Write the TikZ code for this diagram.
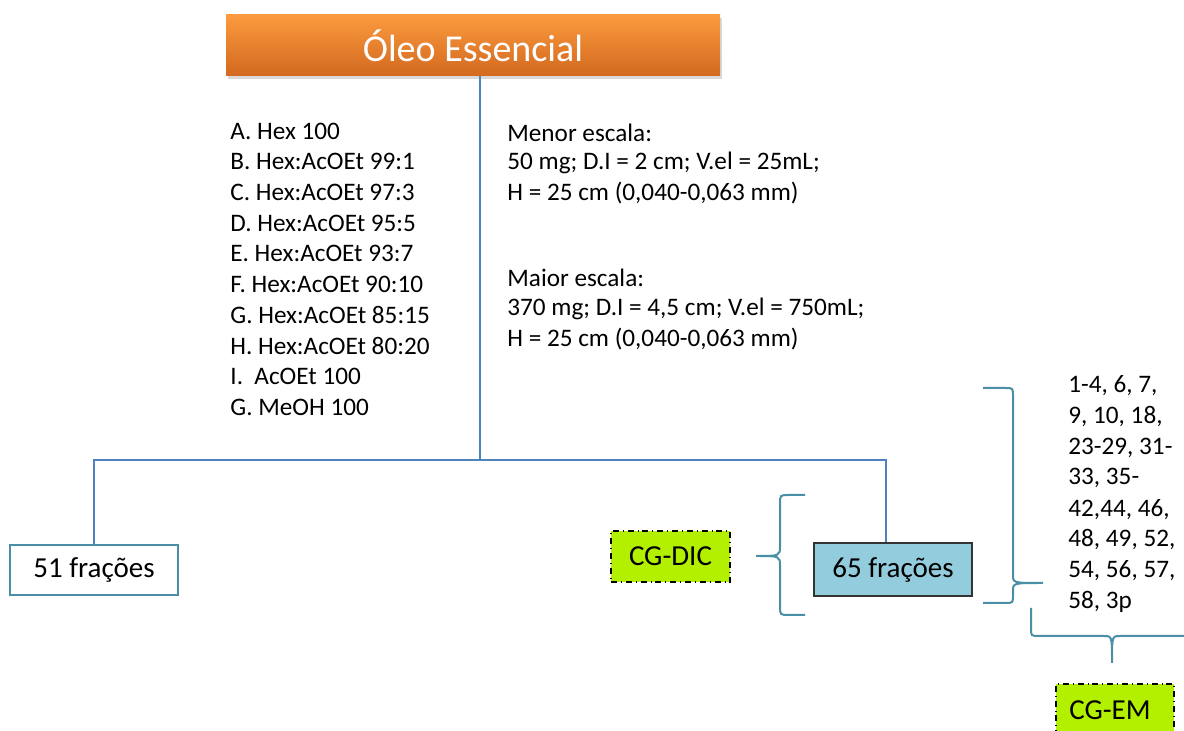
\documentclass[tikz,border=0pt]{standalone}
\usepackage{fontspec}
\setmainfont{Carlito}
\usepackage{xcolor}
\usetikzlibrary{shadows}
\definecolor{oleoTop}{HTML}{FB9A3E}
\definecolor{oleoBot}{HTML}{D2691F}
\definecolor{linha}{HTML}{4F81BD}
\definecolor{chave}{HTML}{4A8FA6}
\definecolor{azul}{HTML}{93CDDD}
\definecolor{lima}{HTML}{B3F000}

\begin{document}
\begin{tikzpicture}[x=0.5pt,y=-0.5pt,font=\fontsize{12.6}{14}\selectfont,
  fracbox/.style={draw,line width=0.8pt,inner sep=0pt,font=\fontsize{14.5}{16}\selectfont},
  cgbox/.style={draw=black,fill=lima,dash dot,line width=0.8pt,inner sep=0pt,font=\fontsize{14.5}{16}\selectfont},
  brace/.style={draw=chave,line width=1pt}]
\useasboundingbox (0,0) rectangle (1184,731);

\node[minimum width=247pt,minimum height=30.5pt,top color=oleoTop,bottom color=oleoBot,
  drop shadow={opacity=0.3,shadow xshift=1pt,shadow yshift=-1.5pt},
  text=white,font=\fontsize{19}{21}\selectfont] (title) at (473,45.5) {Óleo Essencial};

\node[fracbox,draw=chave,fill=white,minimum width=84pt,minimum height=25pt] (f51) at (94,570) {51 frações};
\node[fracbox,draw=black!80,fill=azul,minimum width=79pt,minimum height=26.5pt] (f65) at (893,569.5) {65 frações};
\node[cgbox,minimum width=59.5pt,minimum height=25.5pt] (cgdic) at (670.5,556.5) {CG-DIC};
\node[cgbox,minimum width=59pt,minimum height=29pt,anchor=north] (cgem) at (1115,683) {};
\node (cgemtxt) at (1110,710) [font=\fontsize{14.5}{16}\selectfont] {CG-EM};

% eluentes
\foreach \t/\i in {A. Hex 100/1,B. Hex:AcOEt 99:1/2,C. Hex:AcOEt 97:3/3,D. Hex:AcOEt 95:5/4,
  E. Hex:AcOEt 93:7/5,F. Hex:AcOEt 90:10/6,G. Hex:AcOEt 85:15/7,H. Hex:AcOEt 80:20/8,
  I.~~AcOEt 100/9,G. MeOH 100/10}{
  \pgfmathsetmacro{\yy}{131+30.7*(\i-1)}
  \node[anchor=west,inner sep=0pt] (el\i) at (230,\yy) {\t};
}

% colunas
\foreach \t/\yy/\i in {{Menor escala:}/133/1,{50 mg; D.I = 2 cm; V.el = 25mL;}/163/2,{H = 25 cm (0,040-0,063 mm)}/193/3,
  {Maior escala:}/278/4,{370 mg; D.I = 4,5 cm; V.el = 750mL;}/309/5,{H = 25 cm (0,040-0,063 mm)}/339/6}{
  \node[anchor=west,inner sep=0pt] (col\i) at (507,\yy) {\t};
}

% fracoes para CG-EM
\foreach \t/\i in {{1-4, 6, 7,}/1,{9, 10, 18,}/2,{23-29, 31-}/3,{33, 35-}/4,{42,44, 46,}/5,
  {48, 49, 52,}/6,{54, 56, 57,}/7,{58, 3p}/8}{
  \pgfmathsetmacro{\yy}{386+30.8*(\i-1)}
  \node[anchor=west,inner sep=0pt] (fr\i) at (1068,\yy) {\t};
}

% conectores
\coordinate (j) at (480,460);
\draw[linha,line width=0.8pt] (title.south -| j) -- (j);
\draw[linha,line width=0.8pt] (f51.north) |- (j) -| ([xshift=-3.5pt]f65.north);

% chaves
\draw[brace] (805,495) -- (789,495) .. controls (780,495) .. (780,504) -- (780,546)
  .. controls (780,556) .. (756,556) .. controls (780,556) .. (780,566) -- (780,606)
  .. controls (780,615) .. (789,615) -- (805,615);
\draw[brace] (983,388) -- (1005,388) .. controls (1013,388) .. (1013,396) -- (1013,575)
  .. controls (1013,583) .. (1043,583) .. controls (1013,583) .. (1013,591) -- (1013,595)
  .. controls (1013,603) .. (1005,603) -- (983,603);
\draw[brace] (1031,608) -- (1031,628) .. controls (1031,636) .. (1039,636) -- (1104,636)
  .. controls (1112,636) .. (1112,663) .. controls (1112,636) .. (1120,636) -- (1184,636);
\end{tikzpicture}
\end{document}
